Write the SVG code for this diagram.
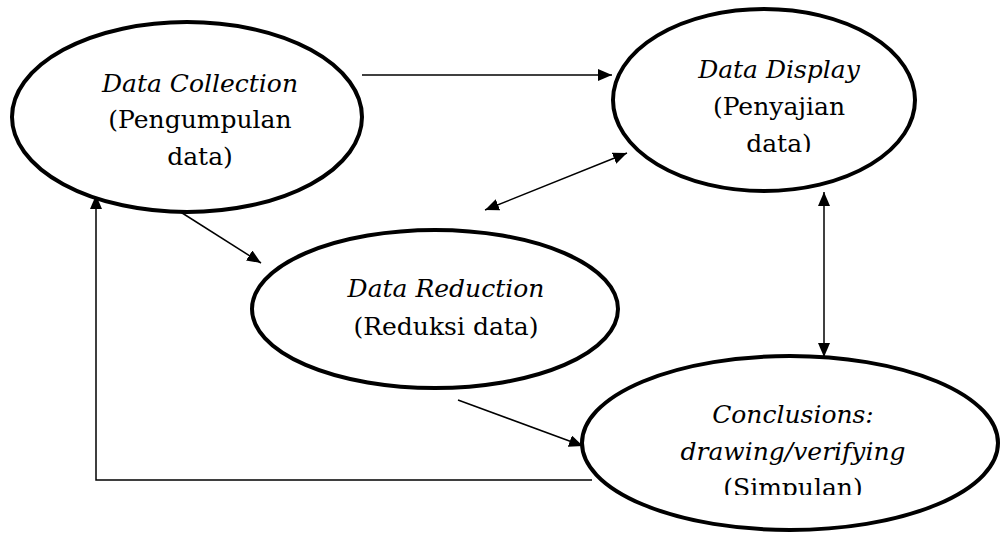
<svg xmlns="http://www.w3.org/2000/svg" width="1000" height="534" viewBox="0 0 1000 534">
<style>
.node ellipse{fill:#fff;stroke:#000;stroke-width:4}
text{font-family:'DejaVu Serif',serif;font-size:25px;fill:#000;text-anchor:middle}
.it{font-style:italic}
.conn line,.conn polyline{stroke:#000;stroke-width:1.5;fill:none}
</style>
<defs>
<marker id="ah" markerUnits="userSpaceOnUse" markerWidth="15" markerHeight="12" refX="14" refY="6" orient="auto-start-reverse">
<path d="M0,0 L14,6 L0,12 z" fill="#000"/>
</marker>
<clipPath id="clipD"><rect x="600" y="0" width="330" height="152"/></clipPath>
<clipPath id="clipC"><rect x="570" y="340" width="430" height="155"/></clipPath>
</defs>
<g class="conn">
<line x1="362" y1="75" x2="612" y2="75" marker-end="url(#ah)"/>
<line x1="179" y1="211" x2="261" y2="263" marker-end="url(#ah)"/>
<line x1="485" y1="210" x2="627" y2="153" marker-start="url(#ah)" marker-end="url(#ah)"/>
<line x1="824" y1="192" x2="824" y2="357" marker-start="url(#ah)" marker-end="url(#ah)"/>
<line x1="458" y1="400" x2="583" y2="446" marker-end="url(#ah)"/>
<polyline points="592,480 96,480 96,195" marker-end="url(#ah)"/>
</g>
<g id="collection" class="node">
<ellipse cx="187" cy="117" rx="175" ry="95"/>
<text x="200" y="92" class="it">Data Collection</text>
<text x="200" y="128">(Pengumpulan</text>
<text x="200" y="165">data)</text>
</g>
<g id="display" class="node">
<ellipse cx="764" cy="100" rx="151" ry="91"/>
<g clip-path="url(#clipD)">
<text x="779" y="78" class="it">Data Display</text>
<text x="779" y="115">(Penyajian</text>
<text x="779" y="152">data)</text>
</g>
</g>
<g id="reduction" class="node">
<ellipse cx="435" cy="309" rx="183" ry="79"/>
<text x="446" y="297" class="it">Data Reduction</text>
<text x="446" y="335">(Reduksi data)</text>
</g>
<g id="conclusions" class="node">
<ellipse cx="790" cy="443" rx="208" ry="87"/>
<g clip-path="url(#clipC)">
<text x="793" y="423" class="it">Conclusions:</text>
<text x="793" y="460" class="it">drawing/verifying</text>
<text x="793" y="496">(Simpulan)</text>
</g>
</g>
</svg>
